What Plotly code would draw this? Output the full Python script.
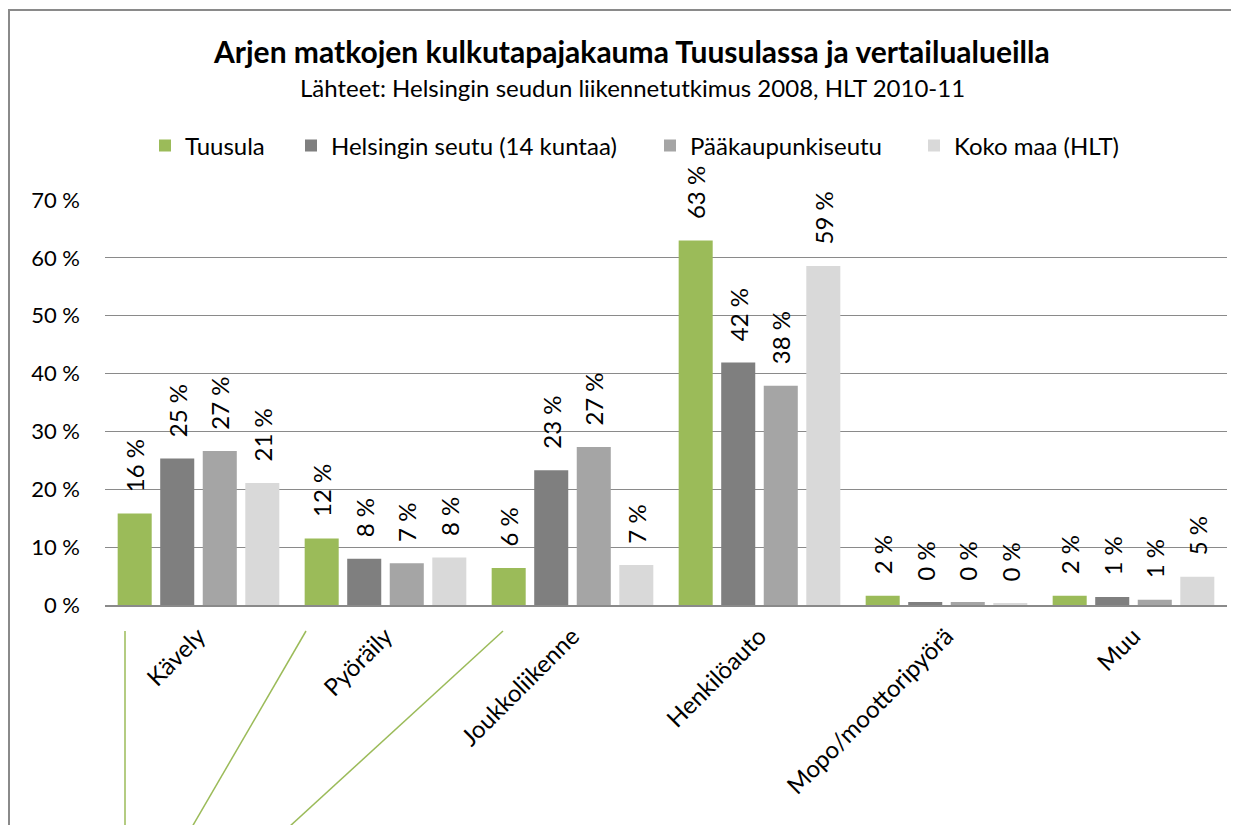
import plotly.graph_objects as go

categories = ["Kävely", "Pyöräily", "Joukkoliikenne", "Henkilöauto", "Mopo/moottoripyörä", "Muu"]
series_names = ["Tuusula", "Helsingin seutu (14 kuntaa)", "Pääkaupunkiseutu", "Koko maa (HLT)"]
tuusula = [15.8, 11.5, 6.4, 63.0, 1.6, 1.6]
helsingin_seutu = [25.3, 8.0, 23.3, 41.9, 0.5, 1.4]
paakaupunkiseutu = [26.6, 7.2, 27.3, 37.9, 0.5, 0.9]
koko_maa = [21.1, 8.2, 6.9, 58.6, 0.25, 4.9]
y_tick_values = [0, 10, 20, 30, 40, 50, 60, 70]
y_tick_labels = ["0 %", "10 %", "20 %", "30 %", "40 %", "50 %", "60 %", "70 %"]

colors = ["#9BBB59", "#7F7F7F", "#A5A5A5", "#D9D9D9"]
all_series = [tuusula, helsingin_seutu, paakaupunkiseutu, koko_maa]

FONT = "Lato"
OFF = 8  # page body margin offset
W, H = 1239 - OFF, 825 - OFF
ML, MR, MT, MB = 97, 12, 192, 220
PW, PH = W - ML - MR, H - MT - MB


def px_x(p):
    # p: pixel position in the final page
    return (p - OFF - ML) / PW


def px_y(p):
    return (H - MB - (p - OFF)) / PH


legend_names = ["legend", "legend2", "legend3", "legend4"]
legend_left_px = [145, 291, 650, 914]

fig = go.Figure()
for name, vals, col, lg in zip(series_names, all_series, colors, legend_names):
    fig.add_trace(go.Bar(
        name=name, x=categories, y=vals, marker_color=col, marker_line_width=0,
        text=["\u00a0\u00a0\u00a0" + f"{round(v)} %" for v in vals], textposition="outside", textangle=-90,
        textfont=dict(family=FONT, size=24, color="#000000"),
        cliponaxis=False, constraintext="none", legend=lg,
    ))

green = "#9BBB59"
shapes = [
    dict(type="line", xref="paper", yref="paper", x0=px_x(125), y0=px_y(631), x1=px_x(125), y1=px_y(830), line=dict(color=green, width=1.5)),
    dict(type="line", xref="paper", yref="paper", x0=px_x(306), y0=px_y(631), x1=px_x(192), y1=px_y(827), line=dict(color=green, width=1.5)),
    dict(type="line", xref="paper", yref="paper", x0=px_x(503), y0=px_y(631), x1=px_x(289), y1=px_y(827), line=dict(color=green, width=1.5)),
    dict(type="line", xref="paper", yref="paper", x0=px_x(9), y0=px_y(9), x1=px_x(9), y1=px_y(830), line=dict(color="#8A8A8A", width=2)),
    dict(type="line", xref="paper", yref="paper", x0=px_x(8), y0=px_y(10), x1=px_x(1245), y1=px_y(10), line=dict(color="#8A8A8A", width=2)),
]

annotations = [
    dict(text="<b>Arjen matkojen kulkutapajakauma Tuusulassa ja vertailualueilla</b>", xref="paper", yref="paper",
         x=px_x(631), y=px_y(51), xanchor="center", yanchor="middle", showarrow=False,
         font=dict(family=FONT, size=30, color="#000000")),
    dict(text="Lähteet: Helsingin seudun liikennetutkimus 2008, HLT 2010-11", xref="paper", yref="paper",
         x=px_x(632), y=px_y(87), xanchor="center", yanchor="middle", showarrow=False,
         font=dict(family=FONT, size=24, color="#000000")),
]

layout_legends = {}
for lg, lx in zip(legend_names, legend_left_px):
    layout_legends[lg] = dict(orientation="h", x=px_x(lx), y=px_y(146), xanchor="left", yanchor="middle",
                              font=dict(family=FONT, size=24, color="#000000"), itemwidth=30,
                              bgcolor="rgba(0,0,0,0)", borderwidth=0)

fig.update_layout(
    width=W, height=H,
    margin=dict(l=ML, r=MR, t=MT, b=MB, autoexpand=False),
    paper_bgcolor="white", plot_bgcolor="white",
    barmode="group", bargap=0.09, bargroupgap=0.2,
    font=dict(family=FONT, size=22, color="#000000"),
    showlegend=True,
    shapes=shapes, annotations=annotations,
    xaxis=dict(tickangle=-45, showline=True, linecolor="#8A8A8A", linewidth=1.5, ticks="",
               ticklabelstandoff=6,
               tickfont=dict(family=FONT, size=24, color="#000000"), showgrid=False),
    yaxis=dict(range=[0, 70], tickvals=y_tick_values, ticktext=y_tick_labels, showgrid=True,
               gridcolor="#8A8A8A", gridwidth=1, zeroline=False, showline=False, ticks="",
               ticklabelstandoff=24, tickfont=dict(family=FONT, size=22, color="#000000")),
    **layout_legends,
)

fig.write_html("out.html")
